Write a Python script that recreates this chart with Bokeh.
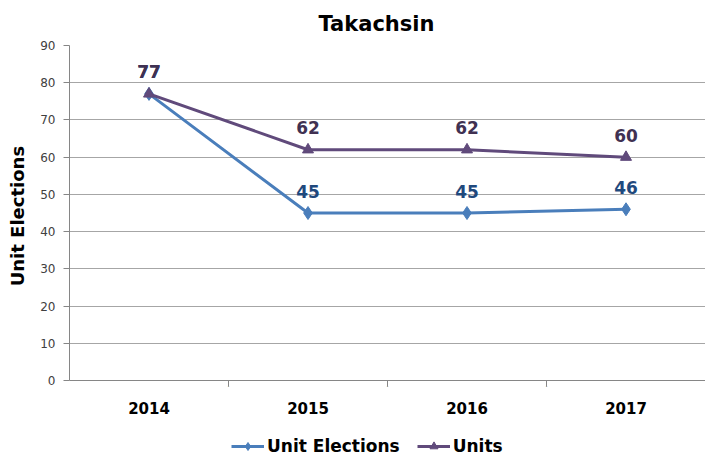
from bokeh.plotting import figure
from bokeh.layouts import column
from bokeh.models import (Range1d, CategoricalAxis, FixedTicker, FactorRange,
                          Legend, LegendItem, ColumnDataSource)
from bokeh.embed import file_html
from bokeh.resources import INLINE
from bokeh.core.properties import value

years = ["2014", "2015", "2016", "2017"]
unit_elections = [77, 45, 45, 46]
units = [77, 62, 62, 60]
y_ticks = [0, 10, 20, 30, 40, 50, 60, 70, 80, 90]

BLUE = "#4A7EBB"
PURPLE = "#604A7B"
BLUE_TXT = "#1F497D"
PURPLE_TXT = "#403152"
FONT = "DejaVu Sans"

src = ColumnDataSource(dict(
    x=years, ue=unit_elections, un=units,
    ue_lbl=[str(v) for v in unit_elections],
    un_lbl=[str(v) for v in units],
))

p = figure(width=705, height=424, x_range=years, y_range=Range1d(0, 90),
           output_backend="svg", toolbar_location=None,
           x_axis_location=None, title="Takachsin",
           min_border_left=69, min_border_right=0, min_border_top=43,
           min_border_bottom=44)
p.outline_line_color = None
p.background_fill_color = "white"
p.border_fill_color = "white"

p.title.text_font = FONT
p.title.text_font_size = "21px"
p.title.text_font_style = "bold"
p.title.align = "left"
p.title.offset = 249
p.title.standoff = 19
p.title.text_color = "black"

# y axis
ya = p.yaxis[0]
ya.ticker = FixedTicker(ticks=y_ticks)
ya.axis_label = "Unit  Elections"
ya.axis_label_text_font = FONT
ya.axis_label_text_font_size = "18px"
ya.axis_label_text_font_style = "bold"
ya.axis_label_text_color = "black"
ya.axis_label_standoff = 9
ya.major_label_text_font = FONT
ya.major_label_text_font_size = "12px"
ya.major_label_text_color = "#404040"
ya.major_label_standoff = 8
ya.major_tick_out = 6
ya.major_tick_in = 0
ya.minor_tick_out = 0
ya.minor_tick_in = 0
ya.axis_line_color = "#868686"
ya.major_tick_line_color = "#868686"

p.ygrid.grid_line_color = "#A6A6A6"
p.ygrid.ticker = FixedTicker(ticks=y_ticks)
p.xgrid.grid_line_color = None

# x axis: ticks between categories via a helper factor range shifted by half
boundaries = ["b%d" % i for i in range(1, len(years))]
p.extra_x_ranges = {"bnd": FactorRange(factors=boundaries, range_padding=0.5,
                                       range_padding_units="absolute")}
tick_axis = CategoricalAxis(x_range_name="bnd",
                            major_label_overrides={b: "" for b in boundaries},
                            major_label_text_font_size="1px",
                            major_label_standoff=0,
                            major_tick_out=6, major_tick_in=0,
                            axis_line_color="#868686",
                            major_tick_line_color="#868686")
p.add_layout(tick_axis, "below")

cat_axis = CategoricalAxis(axis_line_color=None, major_tick_line_color=None,
                           major_label_text_font=FONT,
                           major_label_text_font_size="15px",
                           major_label_text_font_style="bold",
                           major_label_text_color="black",
                           major_label_standoff=5)
p.add_layout(cat_axis, "below")


def draw_series(fig):
    a = fig.line("x", "ue", source=src, line_color=BLUE, line_width=3)
    b = fig.scatter("x", "ue", source=src, marker="diamond", size=13,
                    fill_color=BLUE, line_color=BLUE)
    c = fig.line("x", "un", source=src, line_color=PURPLE, line_width=3)
    d = fig.scatter("x", "un", source=src, marker="triangle", size=11,
                    fill_color=PURPLE, line_color=PURPLE)
    return a, b, c, d


draw_series(p)

p.text("x", "ue", text="ue_lbl", source=src, text_align="center",
       text_baseline="middle", y_offset=-22, text_color=BLUE_TXT,
       text_font=value(FONT), text_font_size="17px", text_font_style="bold")
p.text("x", "un", text="un_lbl", source=src, text_align="center",
       text_baseline="middle", y_offset=-22, text_color=PURPLE_TXT,
       text_font=value(FONT), text_font_size="17px", text_font_style="bold")

# legend strip below the chart (series drawn out of view, legend only)
lf = figure(width=705, height=34, x_range=years, y_range=Range1d(1000, 1001),
            output_backend="svg", toolbar_location=None,
            x_axis_location=None, y_axis_location=None,
            min_border_left=0, min_border_right=0, min_border_top=0,
            min_border_bottom=0)
lf.outline_line_color = None
lf.grid.grid_line_color = None
la, lb, lc, ld = draw_series(lf)

legend = Legend(items=[LegendItem(label="Unit Elections", renderers=[la, lb]),
                       LegendItem(label="Units", renderers=[lc, ld])],
                orientation="horizontal", location=(162, 2),
                border_line_color=None, background_fill_alpha=0,
                label_text_font=FONT, label_text_font_size="17px",
                label_text_font_style="bold", label_text_color="black",
                glyph_width=33, label_standoff=3, spacing=17,
                padding=4, margin=0)
lf.add_layout(legend, "center")

open("out.html", "w").write(file_html(column(p, lf), INLINE))
